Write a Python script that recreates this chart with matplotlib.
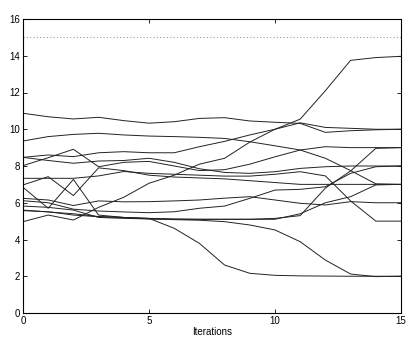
import matplotlib
matplotlib.use("Agg")
import matplotlib.pyplot as plt
import numpy as np

iterations = list(range(16))

L1 = [10.87,10.68,10.56,10.65,10.47,10.33,10.41,10.59,10.63,10.45,10.38,10.32,9.83,9.92,9.97,10.0]
L2 = [4.97,5.33,5.06,5.75,6.3,7.06,7.5,8.1,8.42,9.3,10.0,10.55,12.1,13.75,13.9,13.97]
L3 = [9.36,9.6,9.72,9.78,9.69,9.63,9.6,9.56,9.5,9.32,9.1,8.87,8.42,7.75,7.03,7.0]
L4 = [8.47,8.6,8.51,8.72,8.78,8.72,8.72,9.05,9.34,9.69,10.0,10.35,10.1,10.05,10.0,10.0]
L5 = [8.02,8.45,8.91,7.96,8.2,8.25,8.0,7.75,7.8,8.1,8.5,8.87,9.05,9.0,9.0,9.0]
L6 = [8.47,8.3,8.15,8.27,8.3,8.42,8.2,7.85,7.65,7.6,7.69,7.87,7.96,8.0,8.0,8.0]
L7 = [7.33,7.33,7.33,7.46,7.7,7.6,7.55,7.5,7.45,7.45,7.55,7.69,7.46,6.1,5.0,5.0]
L8 = [6.97,7.42,6.39,7.9,7.75,7.5,7.4,7.35,7.3,7.2,7.1,7.0,7.0,7.0,7.0,7.0]
L9 = [6.84,5.7,7.27,5.33,5.2,5.15,5.12,5.1,5.1,5.1,5.1,5.4,6.0,6.33,6.97,7.0]
L10 = [6.24,6.15,5.85,6.1,6.05,6.06,6.1,6.15,6.25,6.33,6.15,5.97,5.88,6.06,6.0,6.0]
L11 = [6.11,6.0,5.65,5.55,5.5,5.46,5.51,5.7,5.82,6.24,6.69,6.73,6.87,7.6,7.96,8.0]
L12 = [5.82,5.75,5.6,5.2,5.15,5.12,5.1,5.1,5.1,5.1,5.15,5.3,6.8,7.73,8.96,9.0]
L13 = [5.57,5.51,5.33,5.24,5.2,5.15,4.61,3.79,2.61,2.16,2.05,2.02,2.01,2.0,2.0,2.0]
L14 = [5.6,5.5,5.4,5.25,5.2,5.12,5.08,5.05,4.97,4.79,4.52,3.88,2.88,2.12,1.98,2.0]

series = [L1, L2, L3, L4, L5, L6, L7, L8, L9, L10, L11, L12, L13, L14]
bound = 15

plt.rcParams['font.family'] = ['Liberation Sans', 'DejaVu Sans']
fig = plt.figure(figsize=(4.09, 3.37), dpi=100)
ax = fig.add_axes([23/409, 24/337, 378/409, 294/337])

for s in series:
    ax.plot(iterations, s, color='#222222', lw=0.7)
ax.axhline(bound, color='#999999', lw=0.8, ls=(0, (1, 2)))

ax.set_xlim(0, 15)
ax.set_ylim(0, 16)
ax.set_xticks([0, 5, 10, 15])
ax.set_yticks(range(0, 17, 2))
ax.tick_params(direction='in', length=3, width=0.6, labelsize=7, top=True, right=True, pad=2)
for sp in ax.spines.values():
    sp.set_linewidth(0.8)
ax.set_xlabel('Iterations', fontsize=7, labelpad=1)

fig.savefig('out.png', dpi=100)
